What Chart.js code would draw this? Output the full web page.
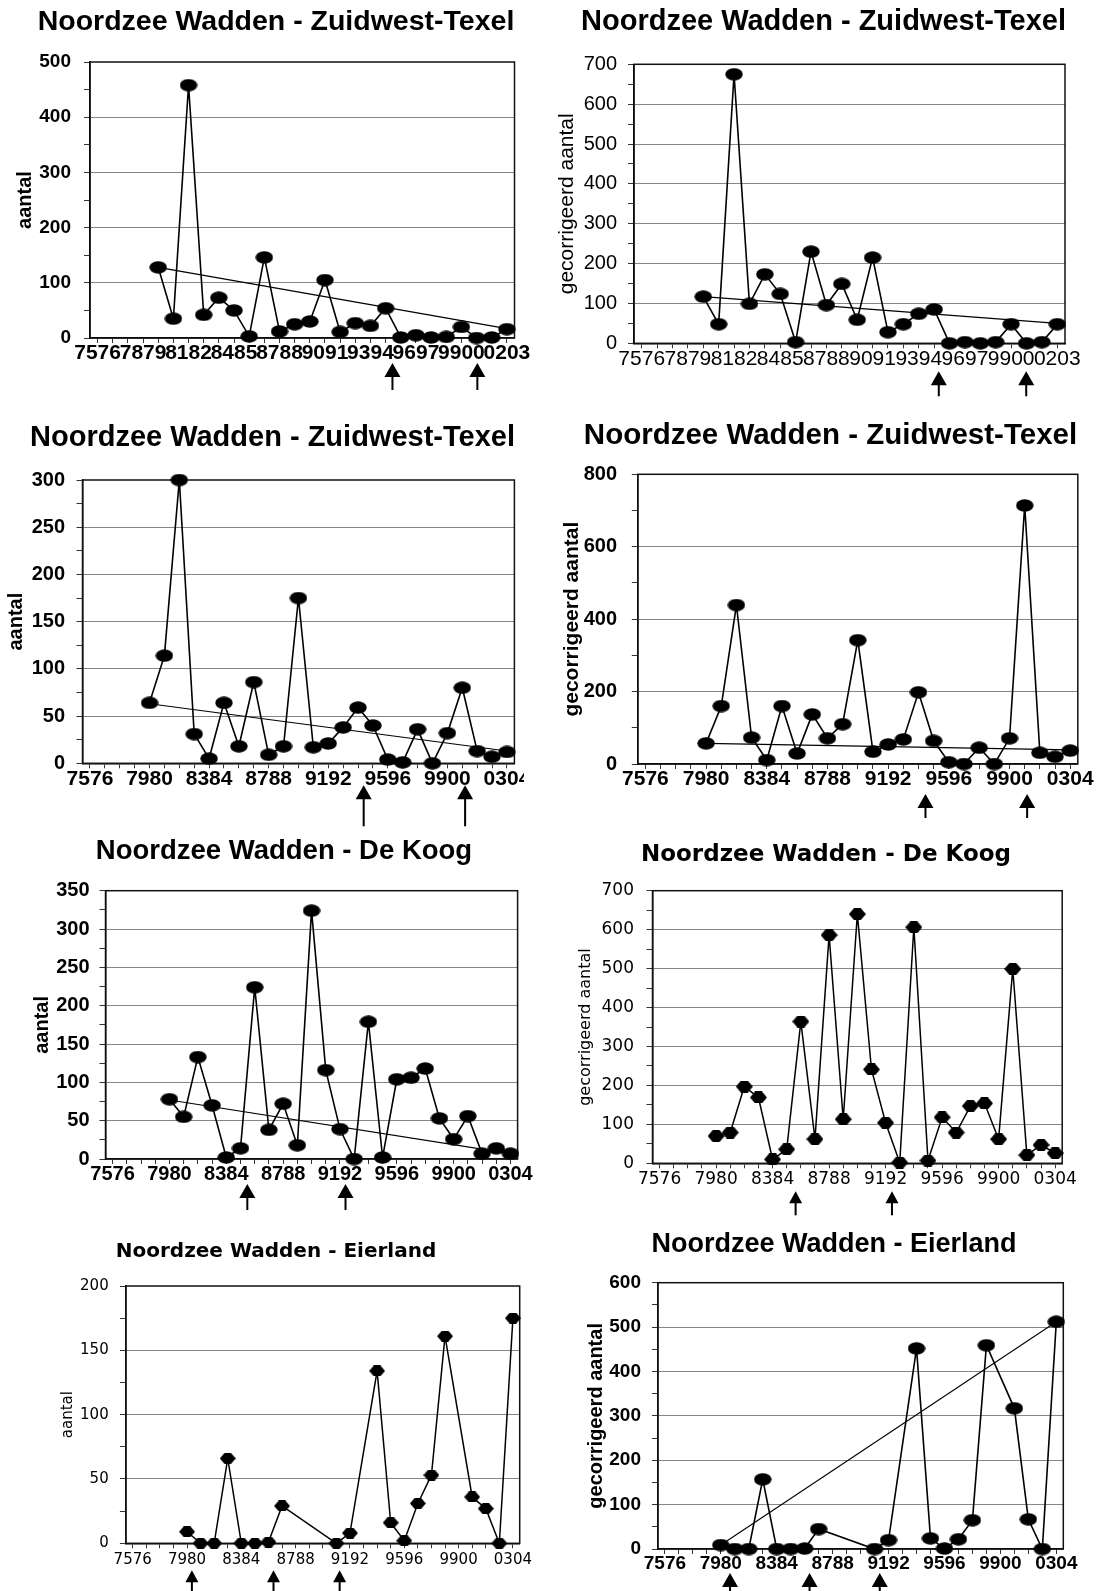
<!DOCTYPE html>
<html>
<head>
<meta charset="utf-8">
<script src="https://cdn.jsdelivr.net/npm/chart.js@4.4.1/dist/chart.umd.min.js"></script>
<style>
  body { margin: 0; background: #fff; }
  #page { position: relative; width: 1100px; height: 1591px; overflow: hidden; background: #fff; }
  #page canvas { position: absolute; }
</style>
</head>
<body>
<div id="page"></div>
<script>
// seasons 75/76 .. 03/04
const seasons = ['7576','7677','7778','7879','7980','8081','8182','8283','8384','8485',
  '8586','8687','8788','8889','8990','9091','9192','9293','9394','9495',
  '9596','9697','9798','9899','9900','0001','0102','0203','0304'];
const seasons28 = seasons.slice(0, 28);
const shownEvery3 = ['7576','7879','8182','8485','8788','9091','9394','9697','9900','0203'];
const shownEvery4 = ['7576','7980','8384','8788','9192','9596','9900','0304'];

// Zuidwest-Texel (top row, 75/76 - 02/03)
const zwTexelCount = [null,null,null,null,128,35,458,42,73,50,3,146,12,25,30,105,11,27,22,54,1,5,1,2,20,0,1,16];
const zwTexelCountTrend = [128, 17];
const zwTexelCountArrows = [19.45, 25.05];

const zwTexelCorr = [null,null,null,null,117,48,675,99,173,124,3,230,96,149,59,215,28,48,74,85,0,3,0,3,48,0,3,48];
const zwTexelCorrTrend = [117, 50];
const zwTexelCorrArrows = [19.3, 24.98];

// Zuidwest-Texel (second row, 75/76 - 03/04)
const zwTexelCount2 = [null,null,null,null,64,114,300,31,5,64,18,86,9,18,175,17,21,38,59,40,4,1,36,0,32,80,13,7,12];
const zwTexelCount2Trend = [63, 13];
const zwTexelCount2Arrows = [18.38, 25.19];

const zwTexelCorr2 = [null,null,null,null,57,160,439,73,11,160,29,137,71,110,342,34,54,68,198,64,5,0,45,0,71,714,31,20,37];
const zwTexelCorr2Trend = [57, 39];
const zwTexelCorr2Arrows = [18.46, 25.16];

// De Koog
const deKoogCount = [null,null,null,null,78,55,133,70,2,14,224,38,72,18,324,116,39,0,179,2,104,106,118,53,26,56,7,14,7];
const deKoogCountTrend = [77, 7];
const deKoogCountArrows = [9.48, 16.39];

const deKoogCorr = [null,null,null,null,70,79,197,169,10,36,364,62,586,113,640,241,104,2,606,7,118,79,147,154,62,499,21,47,26];
const deKoogCorrArrows = [9.63, 16.45];

// Eierland
const eierlandCount = [null,null,null,null,9,0,0,66,0,0,1,29,null,null,null,0,8,null,134,16,2,31,53,161,null,36,27,0,175];
const eierlandCountArrows = [4.36, 10.37, 15.24];

const eierlandCorr = [null,null,null,null,9,0,0,157,0,0,1,45,null,null,null,0,20,null,452,24,1,22,65,459,null,317,67,0,512];
const eierlandCorrTrend = [9, 512];
const eierlandCorrArrows = [4.66, 10.35, 15.37];

const ARIAL = '"Liberation Sans", Arial, sans-serif';
const MSSANS = '"DejaVu Sans", Verdana, sans-serif';

const page = document.getElementById('page');

// trend line: only its two end values, joined straight by spanGaps
const trendLine = (values, ends) => {
  const first = values.findIndex(v => v !== null);
  let last = values.length - 1;
  while (values[last] === null) last--;
  return values.map((_, i) => i === first ? ends[0] : (i === last ? ends[1] : null));
};

const ellipseMark = (w, h) => {
  const c = document.createElement('canvas');
  c.width = w; c.height = h;
  const g = c.getContext('2d');
  g.fillStyle = '#000';
  g.beginPath();
  g.ellipse(w / 2, h / 2, w / 2 - 0.3, h / 2 - 0.3, 0, 0, Math.PI * 2);
  g.fill();
  return c;
};

const hexMark = (w, h) => {
  const c = document.createElement('canvas');
  c.width = w; c.height = h;
  const g = c.getContext('2d');
  g.fillStyle = '#000';
  g.beginPath();
  g.moveTo(0, h / 2);
  g.lineTo(w * 0.3, 0);
  g.lineTo(w * 0.7, 0);
  g.lineTo(w, h / 2);
  g.lineTo(w * 0.7, h);
  g.lineTo(w * 0.3, h);
  g.closePath();
  g.fill();
  return c;
};

const frame = {
  id: 'frame',
  beforeDatasetsDraw(chart) {
    const { ctx, chartArea: a } = chart;
    ctx.save();
    ctx.strokeStyle = '#111';
    ctx.lineWidth = 1.5;
    ctx.strokeRect(a.left, a.top, a.right - a.left, a.bottom - a.top);
    ctx.restore();
  }
};

const titleShift = {
  id: 'titleShift',
  afterLayout(chart, args, opts) {
    const t = chart.titleBlock;
    if (!t) return;
    const dx = opts.cx - (t.left + t.right) / 2;
    t.left += dx;
    t.right += dx;
  }
};

const arrowMarks = {
  id: 'arrowMarks',
  afterDraw(chart, args, o) {
    const { ctx, chartArea } = chart;
    const xs = chart.scales.x;
    ctx.save();
    ctx.fillStyle = '#000';
    o.at.forEach(v => {
      const x = xs.getPixelForValue(v);
      const y0 = chartArea.bottom + o.top;
      const y1 = chartArea.bottom + o.bottom;
      ctx.beginPath();
      ctx.moveTo(x, y0);
      ctx.lineTo(x + o.headW / 2, y0 + o.headH);
      ctx.lineTo(x - o.headW / 2, y0 + o.headH);
      ctx.closePath();
      ctx.fill();
      ctx.fillRect(x - o.shaft / 2, y0 + o.headH - 1, o.shaft, y1 - y0 - o.headH + 1);
    });
    ctx.restore();
  }
};

const font = (family, size, bold) => ({ family, size, weight: bold ? 'bold' : 'normal', lineHeight: 1 });

const makePanel = (p) => {
  const [cx, cy, cw, ch] = p.box;
  const [pl, pt, pr, pb] = p.plot;
  const cv = document.createElement('canvas');
  cv.width = cw; cv.height = ch;
  cv.style.left = cx + 'px'; cv.style.top = cy + 'px';
  cv.style.width = cw + 'px'; cv.style.height = ch + 'px';
  page.appendChild(cv);

  const datasets = [{
    data: p.values,
    borderColor: '#000',
    borderWidth: p.lineWidth,
    pointStyle: p.marker,
    pointRadius: 8,
    spanGaps: true,
    tension: 0,
    clip: false
  }];
  if (p.trend) {
    datasets.push({
      data: trendLine(p.values, p.trend),
      borderColor: '#000',
      borderWidth: 1.1,
      pointRadius: 0,
      spanGaps: true,
      tension: 0
    });
  }

  new Chart(cv, {
    type: 'line',
    data: { labels: p.labels, datasets },
    options: {
      responsive: false,
      animation: false,
      devicePixelRatio: 1,
      events: [],
      layout: { padding: { left: 0, top: 0, right: cx + cw - pr, bottom: 0 } },
      plugins: {
        legend: { display: false },
        tooltip: { enabled: false },
        title: {
          display: true,
          text: p.title,
          color: '#000',
          font: p.titleFont,
          padding: { top: p.titleY - cy - p.titleFont.size / 2, bottom: pt - p.titleY - p.titleFont.size / 2 }
        },
        titleShift: { cx: p.titleX - cx },
        arrowMarks: p.arrows
      },
      scales: {
        x: {
          offset: true,
          grid: { offset: false, drawOnChartArea: false, tickLength: 5, tickColor: '#333', lineWidth: 1 },
          border: { color: '#000', width: 1.5 },
          ticks: {
            autoSkip: false, maxRotation: 0, minRotation: 0, color: '#000',
            font: p.xFont,
            padding: Math.max(0, p.xLabelY - pb - 5 - p.xFont.size / 2),
            callback: function (v) {
              const s = this.getLabelForValue(v);
              return p.shown.includes(s) ? s : '';
            }
          },
          afterFit: (s) => { s.height = cy + ch - pb; s.paddingLeft = 0; s.paddingRight = 0; }
        },
        y: {
          min: 0,
          max: p.yMax,
          ticks: {
            stepSize: p.yMajor / 2, autoSkip: false, color: '#000',
            font: p.yFont,
            padding: pl - p.yLabelRight - 6,
            callback: (v) => (v % p.yMajor === 0 ? String(v) : '')
          },
          grid: {
            tickLength: 6, lineWidth: 1, tickColor: '#333',
            color: (c) => (c.tick && c.tick.value > 0 && c.tick.value < p.yMax && c.tick.value % p.yMajor === 0)
              ? '#868686' : 'rgba(0,0,0,0)'
          },
          border: { color: '#000', width: 1.5 },
          title: {
            display: true, text: p.yTitle, color: '#000',
            font: p.yTitleFont,
            padding: { top: p.yTitleX - cx - p.yTitleFont.size / 2, bottom: 0 }
          },
          afterFit: (s) => { s.width = pl - cx; }
        }
      }
    },
    plugins: [frame, titleShift, arrowMarks]
  });
};

const bigArrow = (at, top, bottom) => ({ at, top, bottom, headW: 16, headH: 14, shaft: 2 });
const smallArrow = (at, top, bottom) => ({ at, top, bottom, headW: 13, headH: 12, shaft: 2 });

makePanel({
  box: [0, 0, 550, 405], plot: [90, 62, 514.5, 338],
  title: 'Noordzee Wadden - Zuidwest-Texel', titleX: 276, titleY: 22, titleFont: font(ARIAL, 28.5, true),
  yTitle: 'aantal', yTitleX: 25, yTitleFont: font(ARIAL, 20, true),
  yFont: font(ARIAL, 19, true), yLabelRight: 71, yMax: 500, yMajor: 100,
  xFont: font(ARIAL, 21, true), xLabelY: 352,
  labels: seasons28, shown: shownEvery3, values: zwTexelCount, trend: zwTexelCountTrend,
  marker: ellipseMark(18, 13), lineWidth: 1.6,
  arrows: bigArrow(zwTexelCountArrows, 25, 52)
});

makePanel({
  box: [550, 0, 550, 405], plot: [634, 64.3, 1065, 343.3],
  title: 'Noordzee Wadden - Zuidwest-Texel', titleX: 823.5, titleY: 22, titleFont: font(ARIAL, 29, true),
  yTitle: 'gecorrigeerd aantal', yTitleX: 567, yTitleFont: font(ARIAL, 21, false),
  yFont: font(ARIAL, 20, false), yLabelRight: 617, yMax: 700, yMajor: 100,
  xFont: font(ARIAL, 21, false), xLabelY: 358.5,
  labels: seasons28, shown: shownEvery3, values: zwTexelCorr, trend: zwTexelCorrTrend,
  marker: ellipseMark(18, 13), lineWidth: 1.6,
  arrows: bigArrow(zwTexelCorrArrows, 28, 53)
});

makePanel({
  box: [0, 405, 524, 425], plot: [82.5, 480, 516, 763.3],
  title: 'Noordzee Wadden - Zuidwest-Texel', titleX: 272.5, titleY: 438.3, titleFont: font(ARIAL, 29, true),
  yTitle: 'aantal', yTitleX: 16, yTitleFont: font(ARIAL, 20, true),
  yFont: font(ARIAL, 20, true), yLabelRight: 65, yMax: 300, yMajor: 50,
  xFont: font(ARIAL, 21, true), xLabelY: 778.3,
  labels: seasons, shown: shownEvery4, values: zwTexelCount2, trend: zwTexelCount2Trend,
  marker: ellipseMark(18, 13), lineWidth: 1.6,
  arrows: bigArrow(zwTexelCount2Arrows, 22, 63)
});

makePanel({
  box: [550, 405, 550, 425], plot: [637.8, 474.3, 1077.8, 764],
  title: 'Noordzee Wadden - Zuidwest-Texel', titleX: 830.5, titleY: 436, titleFont: font(ARIAL, 29.5, true),
  yTitle: 'gecorrigeerd aantal', yTitleX: 572, yTitleFont: font(ARIAL, 21, true),
  yFont: font(ARIAL, 20, true), yLabelRight: 617, yMax: 800, yMajor: 200,
  xFont: font(ARIAL, 21, true), xLabelY: 778,
  labels: seasons, shown: shownEvery4, values: zwTexelCorr2, trend: zwTexelCorr2Trend,
  marker: ellipseMark(18, 13), lineWidth: 1.6,
  arrows: bigArrow(zwTexelCorr2Arrows, 30, 54)
});

makePanel({
  box: [0, 830, 550, 390], plot: [105.5, 890.7, 517.6, 1159],
  title: 'Noordzee Wadden - De Koog', titleX: 284, titleY: 851.7, titleFont: font(ARIAL, 27.5, true),
  yTitle: 'aantal', yTitleX: 42, yTitleFont: font(ARIAL, 20, true),
  yFont: font(ARIAL, 20, true), yLabelRight: 89.5, yMax: 350, yMajor: 50,
  xFont: font(ARIAL, 20, true), xLabelY: 1171.5,
  labels: seasons, shown: shownEvery4, values: deKoogCount, trend: deKoogCountTrend,
  marker: ellipseMark(18, 13), lineWidth: 1.6,
  arrows: bigArrow(deKoogCountArrows, 25, 51)
});

makePanel({
  box: [550, 830, 550, 390], plot: [652.5, 890.7, 1062.2, 1163.3],
  title: 'Noordzee Wadden - De Koog', titleX: 826, titleY: 855, titleFont: font(MSSANS, 23, true),
  yTitle: 'gecorrigeerd aantal', yTitleX: 586, yTitleFont: font(MSSANS, 16, false),
  yFont: font(MSSANS, 17, false), yLabelRight: 634, yMax: 700, yMajor: 100,
  xFont: font(MSSANS, 17, false), xLabelY: 1180,
  labels: seasons, shown: shownEvery4, values: deKoogCorr,
  marker: hexMark(17, 12), lineWidth: 1.5,
  arrows: smallArrow(deKoogCorrArrows, 28, 52)
});

makePanel({
  box: [0, 1220, 550, 371], plot: [125.9, 1286, 519.7, 1543.3],
  title: 'Noordzee Wadden - Eierland', titleX: 276, titleY: 1251.7, titleFont: font(MSSANS, 20, true),
  yTitle: 'aantal', yTitleX: 68.4, yTitleFont: font(MSSANS, 15, false),
  yFont: font(MSSANS, 15, false), yLabelRight: 108.7, yMax: 200, yMajor: 50,
  xFont: font(MSSANS, 15, false), xLabelY: 1560,
  labels: seasons, shown: shownEvery4, values: eierlandCount,
  marker: hexMark(16, 11), lineWidth: 1.5,
  arrows: smallArrow(eierlandCountArrows, 27, 48)
});

makePanel({
  box: [550, 1220, 550, 371], plot: [657.9, 1282.7, 1063.3, 1549],
  title: 'Noordzee Wadden - Eierland', titleX: 834, titleY: 1245, titleFont: font(ARIAL, 27, true),
  yTitle: 'gecorrigeerd aantal', yTitleX: 596.5, yTitleFont: font(ARIAL, 20, true),
  yFont: font(ARIAL, 19, true), yLabelRight: 641, yMax: 600, yMajor: 100,
  xFont: font(ARIAL, 19, true), xLabelY: 1562.7,
  labels: seasons, shown: shownEvery4, values: eierlandCorr, trend: eierlandCorrTrend,
  marker: ellipseMark(18, 13), lineWidth: 1.6,
  arrows: bigArrow(eierlandCorrArrows, 24, 42)
});
</script>
</body>
</html>
